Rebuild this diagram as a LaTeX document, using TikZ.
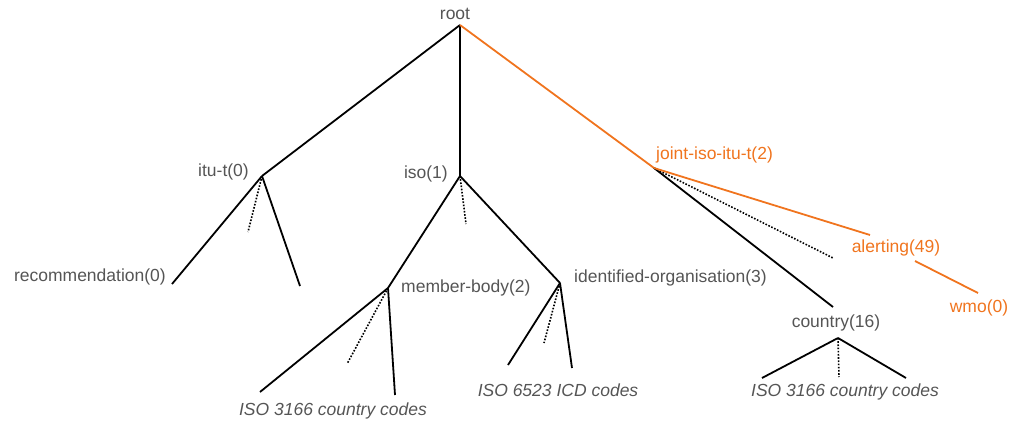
\documentclass[tikz,border=0pt]{standalone}
\usepackage{fontspec}
\setmainfont{Liberation Sans}
\usepackage{tikz}
\usetikzlibrary{calc}
\definecolor{oidorange}{RGB}{240,116,30}
\definecolor{oidgray}{RGB}{85,85,85}
\tikzset{
  branch/.style={line width=1.8pt,black},
  more/.style={line width=1.6pt,black,dash pattern=on 1.6pt off 1.6pt},
  arc/.style={line width=1.8pt,oidorange},
  lbl/.style={inner sep=0pt,text=oidgray,font=\fontsize{17.5}{19}\selectfont},
  codes/.style={lbl,font=\fontsize{17.5}{19}\selectfont\itshape},
  hilite/.style={lbl,text=oidorange}
}

\begin{document}
\begin{tikzpicture}[x=1pt,y=-1pt]
	\useasboundingbox (0,0) rectangle (1011,423);
	% branch points
	\coordinate (root) at (460,25);
	\coordinate (itut) at (262,176);
	\coordinate (iso) at (460,176);
	\coordinate (joint) at (654,168);
	\coordinate (mbody) at (388,288);
	\coordinate (idorg) at (560,283);
	\coordinate (countryt) at (833,307);
	\coordinate (country) at (838,338);
	\coordinate (alert) at (870,235);
	\coordinate (alertb) at (915,261);
	\coordinate (wmo) at (978,293);
	% leaf ends
	\coordinate (rec) at (172,284);
	\coordinate (itur) at (300,286);
	\coordinate (itud) at (248,232);
	\coordinate (isod) at (466,224);
	\coordinate (mbl) at (260,392);
	\coordinate (mbr) at (395,395);
	\coordinate (mbd) at (347,364);
	\coordinate (iol) at (508,365);
	\coordinate (ior) at (572,368);
	\coordinate (iod) at (544,343);
	\coordinate (jd) at (833,258);
	\coordinate (cl) at (762,378);
	\coordinate (cr) at (906,378);
	\coordinate (cd) at (839,377);
	% labels
	\node[lbl] (rootlbl) at (455,14) {root};
	\node[lbl,anchor=east] (itutlbl) at (249,172) {itu-t(0)};
	\node[lbl,anchor=east] (isolbl) at (448,174) {iso(1)};
	\node[hilite,anchor=west] (jointlbl) at (656,155) {joint-iso-itu-t(2)};
	\node[lbl,anchor=east] (reclbl) at (166,277) {recommendation(0)};
	\node[lbl,anchor=west] (mbodylbl) at (401,288) {member-body(2)};
	\node[lbl,anchor=west] (idorglbl) at (574,278) {identified-organisation(3)};
	\node[hilite] (alertlbl) at (896,248) {alerting(49)};
	\node[hilite] (wmolbl) at (979,308) {wmo(0)};
	\node[lbl] (countrylbl) at (836,323) {country(16)};
	\node[codes] (isoccl) at (333,411) {ISO 3166 country codes};
	\node[codes] (icdl) at (558,390) {ISO 6523 ICD codes};
	\node[codes] (isoccr) at (845,392) {ISO 3166 country codes};
	% tree
	\draw[branch] (root)--(itut);
	\draw[branch] (root)--(iso);
	\draw[arc] (root)--(joint);
	\draw[branch] (itut)--(rec);
	\draw[branch] (itut)--(itur);
	\draw[more] (itut)--(itud);
	\draw[branch] (iso)--(mbody);
	\draw[branch] (iso)--(idorg);
	\draw[more] (iso)--(isod);
	\draw[branch] (mbody)--(mbl);
	\draw[branch] (mbody)--(mbr);
	\draw[more] (mbody)--(mbd);
	\draw[branch] (idorg)--(iol);
	\draw[branch] (idorg)--(ior);
	\draw[more] (idorg)--(iod);
	\draw[branch] (joint)--(countryt);
	\draw[more] (joint)--(jd);
	\draw[arc] (joint)--(alert);
	\draw[arc] (alertb)--(wmo);
	\draw[branch] (country)--(cl);
	\draw[branch] (country)--(cr);
	\draw[more] (country)--(cd);
\end{tikzpicture}
\end{document}
